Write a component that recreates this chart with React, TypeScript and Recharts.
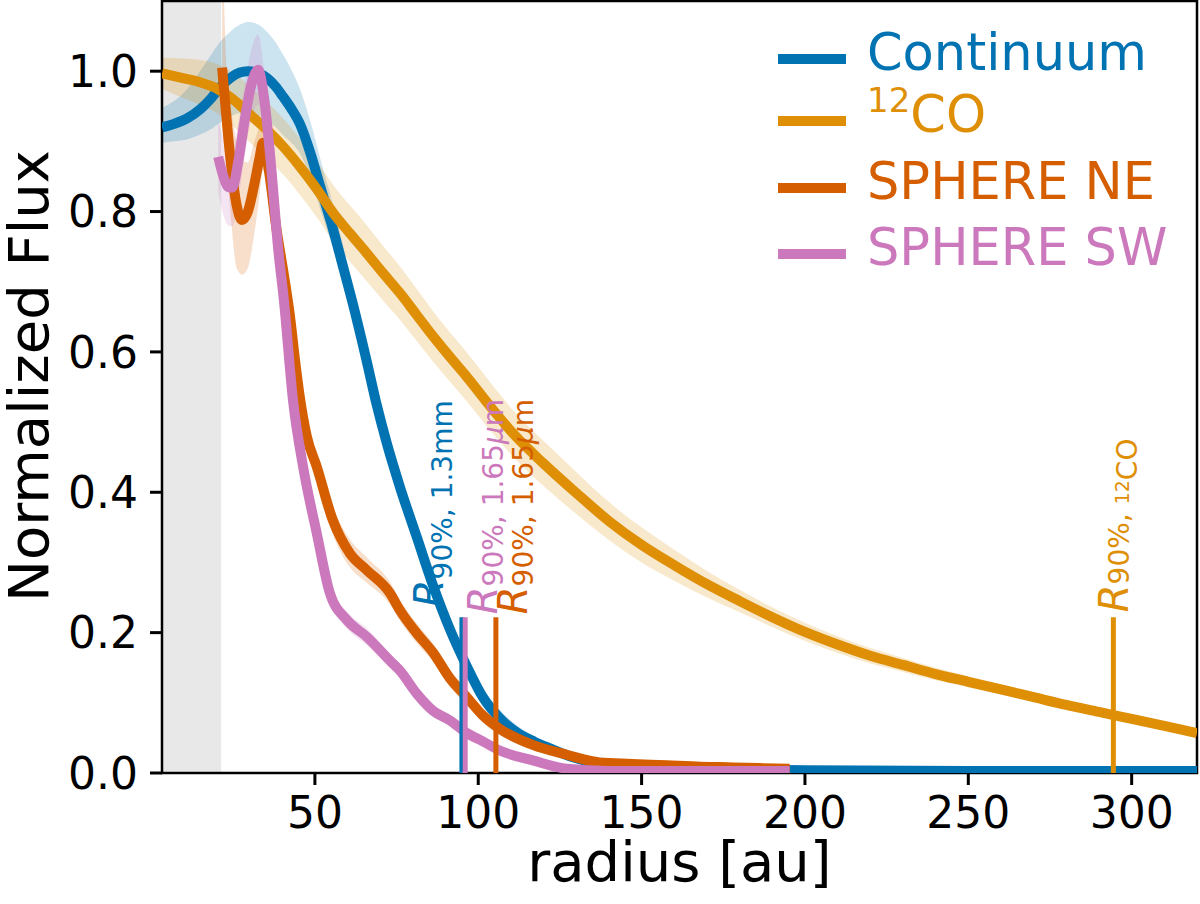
import React from "react";
import {
  ComposedChart,
  Line,
  Area,
  XAxis,
  YAxis,
  ReferenceArea,
  ReferenceLine,
  ReferenceDot,
  Legend,
  Label,
} from "recharts";

const FONT = "'DejaVu Sans', sans-serif";

const BLUE = "#0173b2";
const ORANGE = "#de8f05";
const RED = "#d55e00";
const PINK = "#cc78bc";

// axis ticks
const xTicks = [50, 100, 150, 200, 250, 300];
const yTicks = [0, 0.2, 0.4, 0.6, 0.8, 1.0];

// Continuum (1.3mm)
const contR = [3.2, 7, 11, 15, 18, 21, 24, 27, 29.5, 32, 35.4, 38, 40.2, 43, 45.4, 48.5, 51.6, 55.6, 58.7, 61.7, 65.8, 68.9, 72, 76, 81.2, 86.1, 91.3, 96.5, 101.4, 106.6, 111.8, 117, 122, 128, 135, 145, 160, 180, 200, 250, 320];
const contF = [0.92, 0.925, 0.933, 0.946, 0.96, 0.977, 0.99, 0.998, 1.0, 0.998, 0.99, 0.978, 0.964, 0.945, 0.925, 0.885, 0.836, 0.774, 0.72, 0.667, 0.588, 0.525, 0.47, 0.408, 0.336, 0.268, 0.205, 0.152, 0.108, 0.078, 0.058, 0.045, 0.035, 0.024, 0.015, 0.009, 0.006, 0.005, 0.004, 0.003, 0.003];
const contUp = [0.028, 0.033, 0.042, 0.055, 0.062, 0.065, 0.066, 0.068, 0.07, 0.07, 0.066, 0.063, 0.06, 0.055, 0.05, 0.045, 0.04, 0.035, 0.03, 0.025, 0.02, 0.018, 0.017, 0.016, 0.016, 0.016, 0.016, 0.015, 0.014, 0.012, 0.01, 0.008, 0.006, 0.005, 0.004, 0.003, 0.003, 0.002, 0.002, 0.002, 0.002];
const contDown = [0.022, 0.025, 0.03, 0.036, 0.043, 0.05, 0.055, 0.058, 0.06, 0.06, 0.06, 0.058, 0.055, 0.048, 0.042, 0.036, 0.032, 0.028, 0.025, 0.022, 0.018, 0.017, 0.016, 0.015, 0.015, 0.015, 0.015, 0.014, 0.013, 0.011, 0.009, 0.007, 0.006, 0.005, 0.004, 0.003, 0.003, 0.002, 0.002, 0.002, 0.002];

// 12CO
const coR = [3.2, 9.6, 15, 20.1, 24.9, 30.2, 35.4, 40.2, 45.4, 50.6, 55.6, 60.7, 65.8, 70.9, 76, 81.1, 86.2, 91.3, 96.4, 104.6, 111, 120, 130, 140, 150, 160, 170, 180, 190, 200, 210, 220, 230, 240, 250, 260, 270, 280, 290, 300, 310, 320];
const coF = [0.997, 0.99, 0.984, 0.975, 0.96, 0.938, 0.916, 0.893, 0.864, 0.832, 0.798, 0.769, 0.741, 0.712, 0.684, 0.653, 0.622, 0.593, 0.565, 0.517, 0.482, 0.441, 0.399, 0.359, 0.325, 0.296, 0.269, 0.245, 0.222, 0.201, 0.183, 0.167, 0.154, 0.141, 0.13, 0.119, 0.108, 0.097, 0.087, 0.077, 0.067, 0.057];
const coErr = [0.022, 0.028, 0.032, 0.035, 0.038, 0.04, 0.04, 0.04, 0.04, 0.04, 0.04, 0.04, 0.04, 0.039, 0.038, 0.037, 0.036, 0.035, 0.035, 0.034, 0.033, 0.032, 0.03, 0.027, 0.025, 0.022, 0.019, 0.016, 0.014, 0.013, 0.012, 0.011, 0.01, 0.009, 0.008, 0.007, 0.006, 0.006, 0.005, 0.005, 0.004, 0.004];

// SPHERE NE
const neR = [21.6, 23, 24.5, 26, 27.7, 29.5, 31.5, 33, 34.1, 35.5, 38.4, 40.5, 42.4, 44, 45.4, 47.5, 50.6, 55.5, 60.7, 65.9, 73, 76, 81.2, 86.1, 91.3, 96.5, 101.4, 106.6, 116.7, 127.1, 137.2, 147, 157.7, 168, 177.9, 186, 195.3];
const neF = [1.005, 0.93, 0.86, 0.81, 0.788, 0.8, 0.84, 0.875, 0.898, 0.87, 0.77, 0.71, 0.65, 0.585, 0.535, 0.48, 0.436, 0.36, 0.313, 0.289, 0.256, 0.232, 0.199, 0.172, 0.135, 0.108, 0.082, 0.063, 0.04, 0.026, 0.015, 0.013, 0.011, 0.009, 0.008, 0.007, 0.006];
const neUp = [0.2, 0.07, 0.08, 0.09, 0.085, 0.07, 0.06, 0.045, 0.035, 0.03, 0.025, 0.022, 0.02, 0.02, 0.02, 0.02, 0.02, 0.02, 0.02, 0.018, 0.016, 0.015, 0.014, 0.013, 0.012, 0.011, 0.01, 0.009, 0.007, 0.005, 0.004, 0.004, 0.003, 0.003, 0.003, 0.003, 0.003];
const neDown = [0.085, 0.07, 0.08, 0.09, 0.078, 0.08, 0.07, 0.055, 0.04, 0.03, 0.025, 0.022, 0.02, 0.02, 0.02, 0.02, 0.02, 0.02, 0.02, 0.018, 0.016, 0.015, 0.014, 0.013, 0.012, 0.011, 0.01, 0.009, 0.007, 0.005, 0.004, 0.004, 0.003, 0.003, 0.003, 0.003, 0.003];

// SPHERE SW
const swR = [20.4, 22, 23.5, 24.7, 26.5, 28.5, 30.5, 32.6, 34.5, 36.3, 38.8, 40.5, 43.3, 46.4, 50.6, 54.6, 59.8, 65.9, 73, 76, 81.2, 86.1, 91.3, 96.5, 101.4, 106.6, 116.7, 127.1, 140, 160, 180, 195.3];
const swF = [0.878, 0.85, 0.835, 0.834, 0.87, 0.93, 0.98, 1.002, 0.96, 0.88, 0.745, 0.674, 0.531, 0.436, 0.341, 0.256, 0.218, 0.194, 0.16, 0.146, 0.113, 0.089, 0.075, 0.057, 0.045, 0.032, 0.018, 0.006, 0.003, 0.003, 0.003, 0.003];
const swErr = [0.05, 0.055, 0.055, 0.055, 0.055, 0.05, 0.05, 0.05, 0.04, 0.03, 0.02, 0.015, 0.012, 0.012, 0.012, 0.012, 0.012, 0.012, 0.01, 0.01, 0.01, 0.008, 0.008, 0.007, 0.006, 0.005, 0.004, 0.003, 0.002, 0.002, 0.002, 0.002];

// R90% positions and marker height
const r90 = { cont: 95, sw: 96, ne: 105.4, co: 294.4 };
const markerTop = 0.222;
const beamEdge = 21.3;

const build = (r: number[], f: number[], up: number[], down: number[]) =>
  r.map((x, i) => ({ r: x, f: f[i], band: [f[i] - down[i], f[i] + up[i]] }));

const series = [
  { name: "cont", data: build(contR, contF, contUp, contDown), color: BLUE },
  { name: "co", data: build(coR, coF, coErr, coErr), color: ORANGE },
  { name: "ne", data: build(neR, neF, neUp, neDown), color: RED },
  { name: "sw", data: build(swR, swF, swErr, swErr), color: PINK },
];

const LegendBox = () => {
  const rows = [
    { color: BLUE, base: 70 },
    { color: ORANGE, base: 132 },
    { color: RED, base: 199 },
    { color: PINK, base: 265 },
  ];
  return (
    <svg width={440} height={290} style={{ display: "block" }}>
      {rows.map((row) => (
        <line key={row.base} x1={18} x2={86} y1={row.base - 11} y2={row.base - 11} stroke={row.color} strokeWidth={10} />
      ))}
      <g fontFamily={FONT} fontSize={51}>
        <text x={107} y={70} fill={BLUE}>Continuum</text>
        <text x={107} y={132} fill={ORANGE}>
          <tspan fontSize={34} dy={-20}>12</tspan>
          <tspan dy={20}>CO</tspan>
        </text>
        <text x={107} y={199} fill={RED}>SPHERE NE</text>
        <text x={107} y={265} fill={PINK}>SPHERE SW</text>
      </g>
    </svg>
  );
};

// rotated R90% labels next to the marker lines
const r90Label = (color: string, dx: number, dy: number, sub: string, unit: string, mu: boolean, subShift: number) => (props: any) => {
  const vb = props.viewBox || {};
  const x = (vb.x ?? 0) + dx;
  const y = (vb.y ?? 0) + dy;
  return (
    <text x={x} y={y} transform={`rotate(-90 ${x} ${y})`} fill={color} fontFamily={FONT}>
      <tspan fontSize={40} fontStyle="italic">R</tspan>
      <tspan fontSize={28} dy={subShift}>{sub}</tspan>
      {mu && <tspan fontSize={28} fontStyle="italic">μ</tspan>}
      <tspan fontSize={28}>{unit}</tspan>
    </text>
  );
};

const coLabel = (props: any) => {
  const vb = props.viewBox || {};
  const x = (vb.x ?? 0) + 15;
  const y = (vb.y ?? 0) - 5;
  return (
    <text x={x} y={y} transform={`rotate(-90 ${x} ${y})`} fill={ORANGE} fontFamily={FONT}>
      <tspan fontSize={40} fontStyle="italic">R</tspan>
      <tspan fontSize={28} dy={1}>90%, </tspan>
      <tspan fontSize={19} dy={0}>12</tspan>
      <tspan fontSize={28} dy={8}>CO</tspan>
    </text>
  );
};

export default function App() {
  return (
    <div style={{ position: "absolute", left: 0, top: 0, width: 1200, height: 904, background: "#fff" }}>
      <ComposedChart width={1200} height={904} margin={{ top: 1, right: 3, left: 0, bottom: 0 }}>
        <XAxis
          type="number"
          dataKey="r"
          domain={[3.2, 320]}
          ticks={xTicks}
          allowDataOverflow
          axisLine={false}
          tickLine={{ stroke: "#000", strokeWidth: 3 }}
          tickSize={12}
          tickMargin={12}
          tick={{ fill: "#000", fontSize: 44, fontFamily: FONT }}
          height={131}
        >
          <Label
            content={(p: any) => {
              const vb = p.viewBox || {};
              return (
                <text x={vb.x + vb.width / 2} y={vb.y + 108} textAnchor="middle" fontSize={56} fontFamily={FONT} fill="#000">
                  radius [au]
                </text>
              );
            }}
          />
        </XAxis>
        <YAxis
          type="number"
          domain={[0, 1.1]}
          ticks={yTicks}
          allowDataOverflow
          tickFormatter={(v: number) => v.toFixed(1)}
          axisLine={false}
          tickLine={{ stroke: "#000", strokeWidth: 3 }}
          tickSize={12}
          tickMargin={12}
          tick={{ fill: "#000", fontSize: 44, fontFamily: FONT }}
          width={162}
        >
          <Label
            content={() => (
              <text x={48} y={376} transform="rotate(-90 48 376)" textAnchor="middle" fontSize={56} fontFamily={FONT} fill="#000">
                Normalized Flux
              </text>
            )}
          />
        </YAxis>

        <ReferenceArea x1={3.2} x2={beamEdge} y1={0} y2={1.1} fill="#e8e8e8" fillOpacity={1} stroke="none" />

        {series.map((s) => (
          <Area
            key={s.name + "-band"}
            data={s.data}
            dataKey="band"
            type="monotone"
            stroke="none"
            fill={s.color}
            fillOpacity={0.2}
            isAnimationActive={false}
            activeDot={false}
          />
        ))}
        {series.map((s) => (
          <Line
            key={s.name}
            data={s.data}
            dataKey="f"
            type="monotone"
            stroke={s.color}
            strokeWidth={10}
            strokeLinejoin="round"
            dot={false}
            activeDot={false}
            isAnimationActive={false}
          />
        ))}

        <ReferenceLine segment={[{ x: r90.cont, y: 0 }, { x: r90.cont, y: markerTop }]} stroke={BLUE} strokeWidth={5} />
        <ReferenceLine segment={[{ x: r90.sw, y: 0 }, { x: r90.sw, y: markerTop }]} stroke={PINK} strokeWidth={5} />
        <ReferenceLine segment={[{ x: r90.ne, y: 0 }, { x: r90.ne, y: markerTop }]} stroke={RED} strokeWidth={5} />
        <ReferenceLine segment={[{ x: r90.co, y: 0 }, { x: r90.co, y: markerTop }]} stroke={ORANGE} strokeWidth={5} />

        <ReferenceDot x={r90.cont} y={markerTop} r={0} stroke="none" fill="none" label={{ content: r90Label(BLUE, -19, -10, "90%, 1.3", "mm", false, 9) }} />
        <ReferenceDot x={r90.sw} y={markerTop} r={0} stroke="none" fill="none" label={{ content: r90Label(PINK, 32, -3, "90%, 1.65", "m", true, 6) }} />
        <ReferenceDot x={r90.ne} y={markerTop} r={0} stroke="none" fill="none" label={{ content: r90Label(RED, 31, -3, "90%, 1.65", "m", true, 6) }} />
        <ReferenceDot x={r90.co} y={markerTop} r={0} stroke="none" fill="none" label={{ content: coLabel }} />

        <ReferenceArea x1={3.2} x2={320} y1={0} y2={1.1} fill="none" stroke="#000" strokeWidth={2.5} />

        <Legend
          layout="horizontal"
          verticalAlign="middle"
          align="center"
          wrapperStyle={{ position: "absolute", left: 760, top: 0, width: 440, height: 290 }}
          content={() => <LegendBox />}
        />
      </ComposedChart>
    </div>
  );
}
